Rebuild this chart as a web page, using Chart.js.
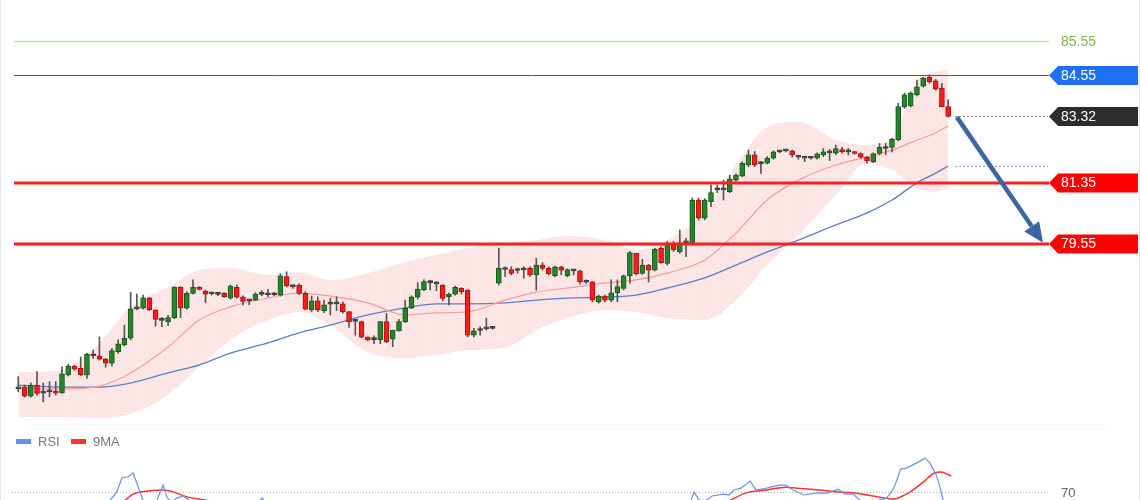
<!DOCTYPE html>
<html>
<head>
<meta charset="utf-8">
<script src="https://cdn.jsdelivr.net/npm/chart.js@4.4.1/dist/chart.umd.min.js"></script>
<style>
  html, body { margin:0; padding:0; background:#fff; }
  body { width:1140px; height:500px; overflow:hidden; position:relative; }
  canvas { position:absolute; left:0; }
  #cPrice { top:0; }
  #cRsi { top:420px; }
  .frame { position:absolute; top:0; width:1px; height:500px; background:#e3eaed; }
</style>
</head>
<body>
<canvas id="cPrice" width="1140" height="425"></canvas>
<canvas id="cRsi" width="1140" height="230"></canvas>
<div class="frame" style="left:0"></div>
<div class="frame" style="left:1139px"></div>
<script>
/* candles + bands + levels, RSI panel underneath */

function $(id){ return document.getElementById(id); }

/* -------- price data -------- */
const OPEN = [75.24,75.30,75.02,75.35,75.12,75.15,75.17,75.12,75.65,75.91,75.85,75.65,76.24,76.22,76.12,76.00,76.34,76.54,76.74,77.61,
  77.63,77.94,77.58,77.28,77.22,77.35,78.25,77.63,78.07,78.25,78.14,78.07,78.05,78.07,77.93,78.25,77.96,77.85,77.87,78.04,
  78.03,78.03,78.02,78.57,78.28,78.32,78.07,77.58,77.85,77.56,77.76,77.76,77.76,77.53,77.24,77.23,76.77,76.70,76.69,77.23,
  76.71,76.96,77.23,77.63,77.96,78.17,78.39,78.35,78.32,77.97,78.05,78.22,78.17,76.83,76.97,77.02,77.03,78.37,78.78,78.78,
  78.76,78.78,78.81,78.62,78.91,78.81,78.59,78.86,78.59,78.74,78.74,78.41,78.41,77.82,77.99,77.87,78.09,78.22,78.59,79.26,
  78.66,78.91,78.76,79.41,78.96,79.56,79.31,79.57,79.56,80.84,80.30,80.79,81.14,81.14,81.09,81.43,81.55,81.88,82.18,81.93,
  81.93,82.08,82.27,82.30,82.30,82.11,82.08,82.08,82.08,82.18,82.24,82.23,82.34,82.27,82.27,82.22,82.11,81.98,82.22,82.38,
  82.40,82.62,83.61,83.63,83.96,84.22,84.48,84.38,84.16,83.61];
const HIGH = [75.60,75.35,75.41,75.75,75.41,75.45,75.45,75.89,75.97,75.94,76.18,76.29,76.39,76.78,76.14,76.44,76.69,77.13,78.10,78.05,
  78.02,77.95,77.58,77.35,77.42,78.27,78.27,78.12,78.47,78.27,78.17,78.10,78.08,78.10,78.32,78.32,78.00,77.89,78.09,78.15,
  78.19,78.10,78.65,78.71,78.30,78.35,78.12,77.99,77.97,77.87,77.93,77.97,77.82,77.53,77.27,77.25,76.78,76.81,77.24,77.48,
  76.98,77.30,77.87,78.00,78.39,78.47,78.45,78.42,78.33,78.08,78.29,78.24,78.18,77.03,77.08,77.33,77.05,79.41,78.86,78.86,
  78.82,78.86,78.86,79.11,78.98,78.86,78.88,78.88,78.80,78.78,78.76,78.47,78.42,78.02,78.02,78.47,78.47,78.62,79.31,79.26,
  79.08,78.93,79.41,79.45,79.61,79.61,79.95,79.70,80.90,80.90,80.88,81.29,81.29,81.43,81.58,81.62,81.98,82.32,82.28,81.98,
  82.13,82.30,82.30,82.33,82.32,82.15,82.13,82.10,82.24,82.37,82.34,82.47,82.40,82.37,82.28,82.24,82.13,82.24,82.52,82.52,
  82.67,83.71,84.01,84.05,84.40,84.48,84.55,84.42,84.30,83.81];
const LOW = [75.15,74.99,74.99,75.05,74.85,75.00,75.05,75.10,75.62,75.79,75.63,75.55,76.14,76.09,75.88,75.91,76.29,76.51,76.69,77.58,
  77.60,77.56,77.10,77.08,77.11,77.32,77.35,77.60,78.05,78.17,77.79,78.02,78.00,77.95,77.90,77.93,77.73,77.73,77.85,78.00,
  77.97,78.00,77.99,78.26,78.22,78.04,77.58,77.53,77.53,77.50,77.43,77.56,77.48,77.06,76.83,76.75,76.66,76.58,76.58,76.61,
  76.49,76.95,77.20,77.62,77.90,78.15,78.17,78.15,77.85,77.73,78.02,78.05,76.78,76.78,76.83,76.98,77.01,78.32,78.57,78.62,
  78.67,78.52,78.57,78.17,78.76,78.62,78.56,78.62,78.56,78.62,78.35,78.37,77.82,77.78,77.82,77.82,77.82,78.17,78.37,78.62,
  78.64,78.41,78.74,78.96,78.91,79.31,79.26,79.16,79.50,80.25,80.25,80.64,81.06,80.84,81.06,81.40,81.53,81.83,81.83,81.63,
  81.91,82.05,82.24,82.27,82.11,82.05,81.98,82.05,82.05,82.13,82.01,82.18,82.24,82.18,82.20,82.08,81.93,81.95,82.18,82.18,
  82.27,82.60,83.56,83.60,83.93,84.19,84.30,84.10,83.60,83.30];
const CLOSE = [75.30,75.02,75.35,75.10,75.11,75.16,75.11,75.68,75.91,75.82,75.65,76.26,76.22,76.12,76.00,76.37,76.57,76.74,77.61,77.63,
  77.94,77.58,77.30,77.27,77.35,78.25,77.63,78.07,78.25,78.19,78.05,78.06,78.04,77.97,78.29,77.96,77.83,77.86,78.05,78.04,
  78.03,78.05,78.59,78.29,78.27,78.07,77.60,77.85,77.58,77.73,77.75,77.76,77.53,77.23,77.25,76.77,76.69,76.71,77.23,76.64,
  76.98,77.23,77.63,77.97,78.19,78.42,78.40,78.36,77.92,78.05,78.25,78.12,76.83,76.96,76.98,77.03,77.03,78.81,78.79,78.66,
  78.75,78.77,78.62,78.91,78.81,78.65,78.86,78.76,78.78,78.74,78.41,78.40,77.87,77.99,77.87,78.09,78.27,78.59,79.28,78.65,
  78.91,78.76,79.38,78.98,79.56,79.36,79.57,79.58,80.84,80.30,80.84,81.06,81.14,81.15,81.46,81.58,81.93,82.18,81.88,81.92,
  82.08,82.27,82.28,82.30,82.18,82.11,82.08,82.08,82.21,82.27,82.25,82.37,82.27,82.27,82.22,82.11,82.01,82.22,82.40,82.37,
  82.64,83.61,83.96,84.01,84.20,84.45,84.35,84.13,83.61,83.32];

/* bands and moving averages, sampled along the candles */
const BAND_X   = [0,7,13,18,24,29,34,40,45,50,56,62,67,72,78,83,88,94,99,104,110,115,120,125,131,136,140,144,147,149];
const BAND_UP  = [75.74,75.80,76.60,77.67,78.26,78.76,78.82,78.62,78.70,78.47,78.67,79.00,79.21,79.42,79.57,79.65,79.77,79.65,79.36,79.65,
  80.49,81.88,83.01,83.16,82.62,82.47,82.71,84.34,84.64,84.70];
const BAND_MID = [75.26,75.23,75.32,75.71,76.48,77.28,77.67,77.93,78.08,77.99,77.79,77.43,77.49,77.52,77.87,78.11,78.23,78.38,78.47,78.67,
  79.06,79.86,80.84,81.43,81.88,82.12,82.32,82.62,82.83,83.04];
const BAND_LOW = [74.40,74.40,74.37,74.49,75.06,75.89,76.69,77.28,77.52,77.13,76.33,76.15,76.24,76.39,76.45,76.98,77.34,77.58,77.52,77.34,
  77.28,77.87,78.91,79.80,80.99,81.94,81.73,81.20,81.08,81.20];
const MA_SLOW  = [75.35,75.29,75.29,75.41,75.71,75.95,76.30,76.60,76.90,77.13,77.43,77.64,77.76,77.76,77.79,77.87,77.93,77.96,78.02,78.23,
  78.53,78.91,79.30,79.65,80.10,80.46,80.84,81.35,81.64,81.85];

/* levels on the right */
const LEVELS = [85.55, 84.55, 81.35, 79.55];
const LAST_PRICE = 83.32;
const ARROW_FROM = [150.4, 83.30];
const ARROW_TO = [164.2, 79.57];

/* RSI panel */
const RSI_X = [0,5,10,13,14.7,15.8,16.6,17.6,18.4,19.0,20.0,21.1,22.2,23.2,23.8,24.5,25.4,26.4,27.5,29,33,37,39.1,41,46,52,58,64,70,74,78,85,92,98,103,107,
  107.8,108.3,109.1,110.2,111.2,113.0,113.9,114.7,115.8,117.3,118.2,119.9,121.9,123.0,124.1,125.9,127.8,129.6,131.4,132.5,133.8,134.9,136.3,137.8,
  139.1,139.9,140.5,141.4,142.3,143.9,145.3,146.1,147.1,147.7,148.2,149];
const RSI_Y = [52,55,58,62,66,70.1,76.8,77.4,79.2,74.3,66,61,66,73.4,67.6,65,67.1,68.1,66,58,50,60,67.1,58,48,40,38,50,55,40,58,55,50,58,62,63,
  66,70.1,66,66,68.1,69.0,68.6,71.0,71.9,75.3,71.0,71.9,73.4,73.4,71.0,68.6,69.5,69.5,71.4,69.0,69.0,66,62,66,
  67.1,70,73.4,81.1,81.6,84.0,86.4,84.0,78.2,72.4,66,57];
const RSI_MA_X = [0,8,14,17.1,18.4,21.1,23.2,24.8,27.0,29.1,30.2,34,40,50,60,70,80,90,100,108,112,114.0,116.5,119.9,123.0,124.8,128.3,131.8,134.3,137.8,
  140.2,142.6,145.0,146.8,147.9,149.5];
const RSI_MA_Y = [50,54,60,66,69.0,70.6,71.0,70.1,67.7,66.6,66,62,58,50,46,48,52,54,56,60,64,66,69.5,71.0,72.4,71.9,71.0,70.0,69.5,67.6,
  66.6,69.5,74.8,79.2,79.7,77.7];
const RSI_LEVEL = 70;

const X_MIN = -0.69, X_MAX = 165.0;
const FONT = "'Liberation Sans', Arial, sans-serif";

/* -------- styles -------- */
const LEVEL_STYLE = [
  { line: "#bfe0a9", width: 1.5, tag: null,      text: "#7db84c" },
  { line: "#3559a6", width: 1,   tag: "#1f6ff4", text: "#ffffff" },
  { line: "#ff1e1e", width: 3,   tag: "#ff0000", text: "#ffffff" },
  { line: "#ff1e1e", width: 3,   tag: "#ff0000", text: "#ffffff" },
];

function bandPattern() {
  const c = document.createElement("canvas");
  c.width = 6; c.height = 6;
  const g = c.getContext("2d");
  g.fillStyle = "#fde6e6";
  g.fillRect(0, 0, 6, 6);
  g.fillStyle = "#fad7d7";
  g.fillRect(0, 0, 1, 1);
  g.fillRect(3, 3, 1, 1);
  return g.createPattern(c, "repeat");
}

function pts(xs, ys) { return xs.map((x, k) => ({ x: x, y: ys[k] })); }

function drawTag(ctx, x0, yc, text, st, right) {
  if (st.tag) {
    ctx.fillStyle = st.tag;
    ctx.beginPath();
    ctx.moveTo(x0, yc);
    ctx.lineTo(x0 + 9, yc - 9.5);
    ctx.lineTo(right, yc - 9.5);
    ctx.lineTo(right, yc + 9.5);
    ctx.lineTo(x0 + 9, yc + 9.5);
    ctx.closePath();
    ctx.fill();
  }
  ctx.fillStyle = st.text;
  ctx.font = "14px " + FONT;
  ctx.textBaseline = "middle";
  ctx.textAlign = "left";
  ctx.fillText(text, x0 + 12, yc + 0.5);
}

/* -------- price chart -------- */
const IDX = OPEN.map((_, i) => i);
const wickData = IDX.map(i => ({ x: i, y: [LOW[i], HIGH[i]] }));
const bodyData = IDX.map(i => ({ x: i, y: [Math.min(OPEN[i], CLOSE[i]), Math.max(OPEN[i], CLOSE[i])] }));
const bodyFill = IDX.map(i => Math.abs(CLOSE[i] - OPEN[i]) < 0.02 ? "#3d3d3d" : (CLOSE[i] > OPEN[i] ? "#24852a" : "#f41c1c"));
const bodyEdge = IDX.map(i => Math.abs(CLOSE[i] - OPEN[i]) < 0.02 ? "#3d3d3d" : (CLOSE[i] > OPEN[i] ? "#165a1a" : "#b40c0c"));

const priceOverlay = {
  id: "priceOverlay",
  afterDatasetsDraw(chart) {
    const { ctx, chartArea: a, scales: { x, y } } = chart;
    const right = chart.width - 2;
    ctx.save();

    // dotted guides from the last candle
    const x0 = x.getPixelForValue(IDX.length - 1) + 7;
    ctx.lineWidth = 1;
    ctx.setLineDash([2, 2]);
    ctx.strokeStyle = "#8a8a8a";
    let py = Math.round(y.getPixelForValue(LAST_PRICE)) + 0.5;
    ctx.beginPath(); ctx.moveTo(x0, py); ctx.lineTo(a.right, py); ctx.stroke();
    ctx.strokeStyle = "#7f9fd8";
    const pm = Math.round(y.getPixelForValue(MA_SLOW[MA_SLOW.length - 1])) + 0.5;
    ctx.beginPath(); ctx.moveTo(x0, pm); ctx.lineTo(a.right, pm); ctx.stroke();
    ctx.setLineDash([]);

    LEVELS.forEach((v, k) => {
      const st = LEVEL_STYLE[k];
      const ly = Math.round(y.getPixelForValue(v)) + (st.width === 3 ? 0 : 0.5);
      ctx.strokeStyle = st.line;
      ctx.lineWidth = st.width;
      ctx.beginPath(); ctx.moveTo(a.left, ly); ctx.lineTo(a.right + 1, ly); ctx.stroke();
      drawTag(ctx, a.right + 1, ly, v.toFixed(2), st, right);
    });
    drawTag(ctx, a.right + 1, py, LAST_PRICE.toFixed(2), { tag: "#2d2d2d", text: "#ffffff" }, right);

    // arrow
    const ax = x.getPixelForValue(ARROW_FROM[0]), ay = y.getPixelForValue(ARROW_FROM[1]);
    const bx = x.getPixelForValue(ARROW_TO[0]), by = y.getPixelForValue(ARROW_TO[1]);
    const ang = Math.atan2(by - ay, bx - ax);
    const head = 20, half = 9;
    const hx = bx - head * Math.cos(ang), hy = by - head * Math.sin(ang);
    ctx.strokeStyle = "#3b66a5";
    ctx.fillStyle = "#3b66a5";
    ctx.lineWidth = 4.5;
    ctx.lineCap = "butt";
    ctx.beginPath(); ctx.moveTo(ax, ay); ctx.lineTo(hx, hy); ctx.stroke();
    ctx.beginPath();
    ctx.moveTo(bx, by);
    ctx.lineTo(hx + half * Math.sin(ang), hy - half * Math.cos(ang));
    ctx.lineTo(hx - half * Math.sin(ang), hy + half * Math.cos(ang));
    ctx.closePath();
    ctx.fill();
    ctx.restore();
  }
};

new Chart($("cPrice").getContext("2d"), {
  type: "bar",
  data: {
    datasets: [
      { type: "line", data: pts(BAND_X, BAND_UP), borderWidth: 0, pointRadius: 0, fill: "+1",
        backgroundColor: bandPattern(), cubicInterpolationMode: "monotone", order: 10 },
      { type: "line", data: pts(BAND_X, BAND_LOW), borderWidth: 0, pointRadius: 0, fill: false,
        cubicInterpolationMode: "monotone", order: 10 },
      { type: "line", data: pts(BAND_X, BAND_MID), borderColor: "#ff9a9a", borderWidth: 1.2, pointRadius: 0,
        fill: false, cubicInterpolationMode: "monotone", order: 5 },
      { type: "line", data: pts(BAND_X, MA_SLOW), borderColor: "#5a7fc4", borderWidth: 1.3, pointRadius: 0,
        fill: false, cubicInterpolationMode: "monotone", order: 5 },
      { type: "bar", data: wickData, backgroundColor: "#555555", barThickness: 1, grouped: false, order: 2 },
      { type: "bar", data: bodyData, backgroundColor: bodyFill, borderColor: bodyEdge, borderWidth: 1,
        borderSkipped: false, barThickness: 5, minBarLength: 2, grouped: false, order: 1 },
    ]
  },
  options: {
    responsive: false,
    animation: false,
    devicePixelRatio: 1,
    events: [],
    layout: { padding: { left: 14, right: 92, top: 0, bottom: 0 } },
    scales: {
      x: { type: "linear", min: X_MIN, max: X_MAX, offset: false, display: false },
      y: { type: "linear", min: 74.165, max: 86.775, display: false }
    },
    plugins: { legend: { display: false }, tooltip: { enabled: false } }
  },
  plugins: [priceOverlay]
});

/* -------- RSI chart -------- */
const rsiDecor = {
  id: "rsiDecor",
  beforeDatasetsDraw(chart) {
    const { ctx, chartArea: a, scales: { y } } = chart;
    ctx.save();
    ctx.lineWidth = 1;
    ctx.setLineDash([1, 3]);
    ctx.strokeStyle = "#dcdcdc";
    ctx.beginPath(); ctx.moveTo(30, 4.5); ctx.lineTo(1110, 4.5); ctx.stroke();
    ctx.strokeStyle = "#b5b5b5";
    ctx.setLineDash([1, 2]);
    const py = Math.round(y.getPixelForValue(RSI_LEVEL)) + 0.5;
    ctx.beginPath(); ctx.moveTo(12, py); ctx.lineTo(a.right, py); ctx.stroke();
    ctx.restore();
  },
  afterDraw(chart) {
    const { ctx, chartArea: a, scales: { y } } = chart;
    ctx.save();
    ctx.font = "13px " + FONT;
    ctx.textBaseline = "middle";
    ctx.fillStyle = "#666";
    ctx.fillText(String(RSI_LEVEL), a.right + 13, Math.round(y.getPixelForValue(RSI_LEVEL)) + 1);
    // legend
    const ly = 21;
    chart.data.datasets.forEach((ds, k) => {
      const lx = k === 0 ? 16 : 71;
      ctx.fillStyle = ds.borderColor;
      ctx.fillRect(lx, ly - 2, 15, 5);
      ctx.fillStyle = "#777";
      ctx.fillText(ds.label, lx + 22, ly + 1);
    });
    ctx.restore();
  }
};

new Chart($("cRsi").getContext("2d"), {
  type: "line",
  data: {
    datasets: [
      { label: "RSI", data: pts(RSI_X, RSI_Y), borderColor: "#6c8fe8", borderWidth: 1.2, pointRadius: 0, fill: false },
      { label: "9MA", data: pts(RSI_MA_X, RSI_MA_Y), borderColor: "#ff3030", borderWidth: 1.5, pointRadius: 0,
        fill: false, cubicInterpolationMode: "monotone" },
    ]
  },
  options: {
    responsive: false,
    animation: false,
    devicePixelRatio: 1,
    events: [],
    layout: { padding: { left: 14, right: 92, top: 10, bottom: 13 } },
    scales: {
      x: { type: "linear", min: X_MIN, max: X_MAX, display: false },
      y: { type: "linear", min: 0, max: 100, display: false }
    },
    plugins: { legend: { display: false }, tooltip: { enabled: false } }
  },
  plugins: [rsiDecor]
});
</script>
</body>
</html>
